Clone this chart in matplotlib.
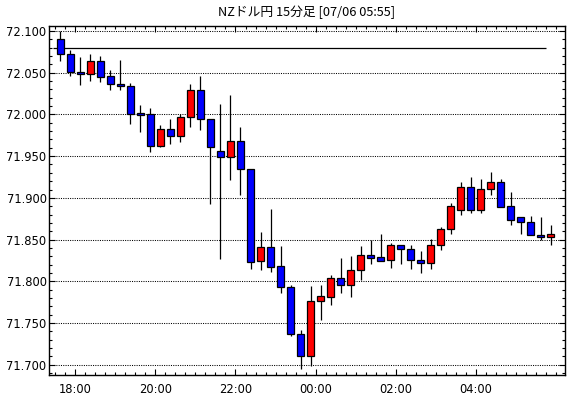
import matplotlib
matplotlib.use("Agg")
import matplotlib.pyplot as plt
from matplotlib.ticker import MultipleLocator, FixedLocator
import numpy as np

# 15分足 (17:30 ～ 05:45)
start_time = "17:30"
opens = [72.090, 72.072, 72.051, 72.048, 72.064, 72.046, 72.036, 72.034, 72.002, 72.001,
         71.962, 71.983, 71.974, 71.997, 72.029, 71.994, 71.956, 71.949, 71.968, 71.934,
         71.824, 71.841, 71.818, 71.793, 71.737, 71.710, 71.776, 71.781, 71.804, 71.796,
         71.813, 71.831, 71.829, 71.825, 71.843, 71.839, 71.825, 71.822, 71.843, 71.863,
         71.885, 71.913, 71.885, 71.911, 71.919, 71.890, 71.877, 71.871, 71.856, 71.853]
highs = [72.100, 72.077, 72.069, 72.072, 72.070, 72.053, 72.065, 72.038, 72.011, 72.008,
         71.987, 71.995, 72.001, 72.037, 72.046, 71.994, 72.013, 72.023, 71.985, 71.935,
         71.859, 71.887, 71.842, 71.795, 71.742, 71.794, 71.795, 71.807, 71.828, 71.830,
         71.842, 71.850, 71.857, 71.846, 71.844, 71.843, 71.836, 71.851, 71.865, 71.894,
         71.919, 71.925, 71.923, 71.931, 71.923, 71.907, 71.877, 71.878, 71.877, 71.868]
lows = [72.064, 72.046, 72.035, 72.040, 72.039, 72.029, 72.029, 71.989, 71.979, 71.955,
        71.961, 71.965, 71.967, 71.985, 71.981, 71.893, 71.827, 71.921, 71.903, 71.815,
        71.813, 71.811, 71.786, 71.735, 71.695, 71.699, 71.754, 71.772, 71.786, 71.781,
        71.802, 71.821, 71.824, 71.816, 71.821, 71.815, 71.810, 71.815, 71.838, 71.857,
        71.879, 71.882, 71.882, 71.904, 71.889, 71.867, 71.857, 71.855, 71.849, 71.843]
closes = [72.072, 72.051, 72.048, 72.064, 72.045, 72.036, 72.034, 72.000, 71.999, 71.962,
          71.983, 71.974, 71.997, 72.029, 71.994, 71.961, 71.949, 71.968, 71.934, 71.823,
          71.841, 71.817, 71.793, 71.737, 71.710, 71.776, 71.782, 71.804, 71.796, 71.813,
          71.832, 71.828, 71.824, 71.843, 71.839, 71.825, 71.822, 71.843, 71.863, 71.890,
          71.913, 71.885, 71.911, 71.919, 71.889, 71.874, 71.871, 71.856, 71.853, 71.857]
hline_price = 72.080
time_labels = ["18:00", "20:00", "22:00", "00:00", "02:00", "04:00"]
y_labels = ["71.700", "71.750", "71.800", "71.850", "71.900", "71.950",
            "72.000", "72.050", "72.100"]
title = "NZドル円 15分足 [07/06 05:55]"

opens = np.array(opens)
closes = np.array(closes)
n = len(opens)
x = np.arange(n)

# ローソク足の時刻
h0, m0 = map(int, start_time.split(":"))
times = ["%02d:%02d" % (((h0 * 60 + m0 + 15 * i) // 60) % 24, (m0 + 15 * i) % 60) for i in range(n)]

fig = plt.figure(figsize=(5.70, 3.98), dpi=100)
ax = fig.add_axes([0.0865, 0.0585, 0.9053, 0.8762])

# 罫線
yvals = [float(s) for s in y_labels]
for yv in yvals:
    ax.axhline(yv, color="black", lw=0.75, linestyle=(0, (1, 1.2)), zorder=1)

ax.hlines(hline_price, -0.7, n - 1.5, color="black", lw=0.9, zorder=2)

up = closes >= opens
colors = np.where(up, "#ff0000", "#0000ff")
ax.vlines(x, lows, highs, color="black", lw=0.9, zorder=3)
ax.bar(x, np.abs(closes - opens), bottom=np.minimum(opens, closes), width=0.7,
       color=colors, edgecolor="black", linewidth=0.9, zorder=4)

ax.set_xlim(-1.1, n + 0.45)
ax.set_ylim(71.688, 72.106)

# 目盛
tick_pos = [times.index(t) - 0.5 for t in time_labels]
ax.xaxis.set_major_locator(FixedLocator(tick_pos))
ax.set_xticklabels(time_labels)
ax.xaxis.set_minor_locator(FixedLocator(np.arange(-0.5, n, 1.0)))
ax.yaxis.set_major_locator(FixedLocator(yvals))
ax.set_yticklabels(y_labels)
ax.yaxis.set_minor_locator(MultipleLocator(0.01))

ax.tick_params(axis="both", which="both", direction="in", top=True, right=True,
               color="black", width=0.8)
ax.tick_params(axis="both", which="major", length=4.5, pad=6)
ax.tick_params(axis="both", which="minor", length=2.2)
ax.tick_params(axis="y", which="major", pad=2)

for lab in ax.get_xticklabels() + ax.get_yticklabels():
    lab.set_fontfamily(["Liberation Sans Narrow", "DejaVu Sans"])
    lab.set_fontsize(8.3)

for sp in ax.spines.values():
    sp.set_color("black")
    sp.set_linewidth(1.0)

fig.text(0.538, 0.968, title, ha="center", va="center", fontsize=9.2,
         family=["Noto Sans CJK JP", "DejaVu Sans"])

fig.savefig("out.png", dpi=100, facecolor="white")
